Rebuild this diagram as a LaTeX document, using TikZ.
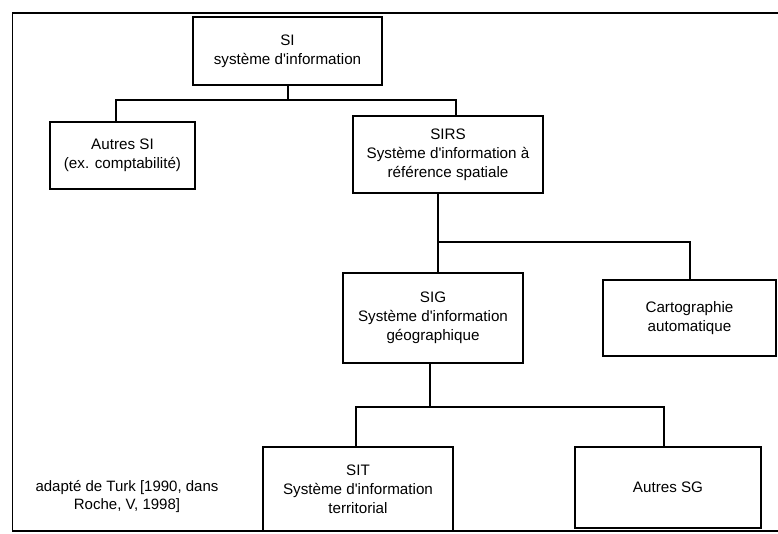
\documentclass[tikz,border=0pt]{standalone}
\usepackage{fontspec}
\setmainfont{Liberation Sans}[Ligatures=TeXOff]
\begin{document}
\begin{tikzpicture}[x=1pt,y=-1pt,
  box/.style={draw, line width=2pt, rectangle, inner sep=0pt, align=center,
    font=\fontsize{15.2}{19}\selectfont},
  link/.style={line width=2pt},
  note/.style={align=center, inner sep=0pt, font=\fontsize{15}{18}\selectfont},
]
\useasboundingbox (0,0) rectangle (778,533);
% outer frame (open on the right)
\draw[line width=1.6pt] (778,13) -- (12.5,13) -- (12.5,531) -- (778,531);

% boxes
\node[box, minimum width=189pt, minimum height=68pt] (si) at (287.5,51)
  {SI\\système d'information};
\node[box, minimum width=145pt, minimum height=67pt] (autresi) at (122.5,155.5)
  {Autres SI\\(ex. comptabilité)};
\node[box, minimum width=190pt, minimum height=77pt] (sirs) at (448,154.5)
  {SIRS\\Système d'information à\\référence spatiale};
\node[box, minimum width=180pt, minimum height=90pt] (sig) at (433,318)
  {SIG\\Système d'information\\géographique};
\node[box, minimum width=173pt, minimum height=76pt] (carto) at (689.5,318)
  {Cartographie\\automatique};
\node[box, minimum width=190pt, minimum height=84pt] (sit) at (358,489)
  {SIT\\Système d'information\\territorial};
\node[box, minimum width=186pt, minimum height=81pt] (autresg) at (668,487.5)
  {Autres SG};

\node[note] (src) at (127,497) {adapté de Turk [1990, dans\\Roche, V, 1998]};

% tree connectors
\draw[link] (si.south) -- (si.south |- 0,100);
\draw[link] ([xshift=-6.5]autresi.north) |- ([xshift=8]sirs.north |- 0,100)
  -- ([xshift=8]sirs.north);
\draw[link] ([xshift=-10]sirs.south) -- ([xshift=-10]sirs.south |- 0,242);
\draw[link] ([xshift=5]sig.north) |- (carto.north |- 0,242) -- (carto.north);
\draw[link] ([xshift=-3]sig.south) -- ([xshift=-3]sig.south |- 0,407);
\draw[link] ([xshift=-2]sit.north) |- ([xshift=-4]autresg.north |- 0,407)
  -- ([xshift=-4]autresg.north);
\end{tikzpicture}
\end{document}
